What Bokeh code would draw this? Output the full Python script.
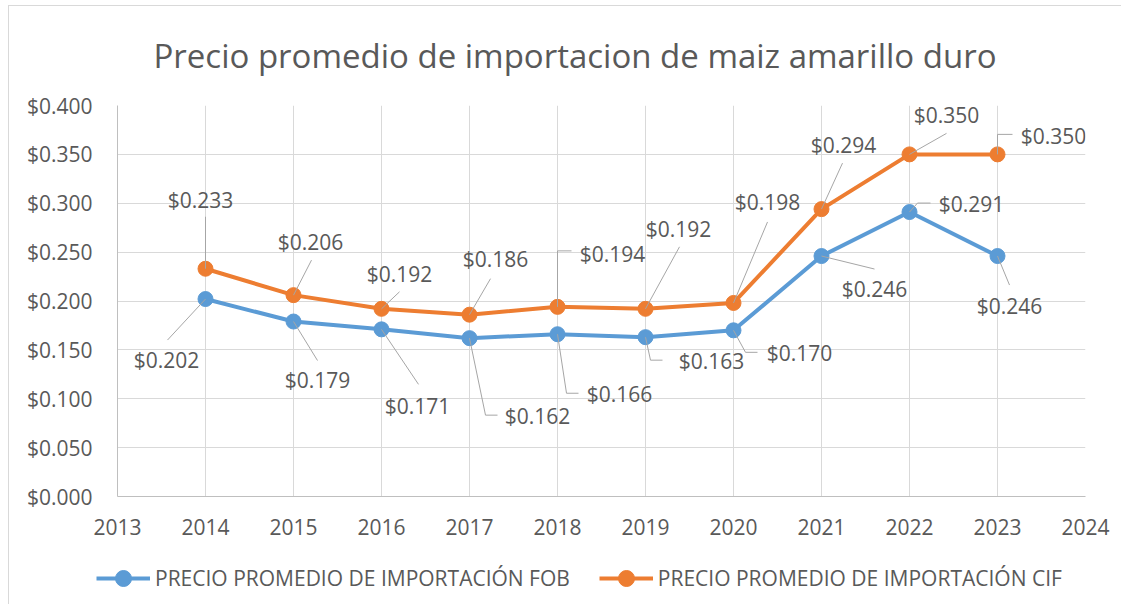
from bokeh.plotting import figure
from bokeh.layouts import column
from bokeh.models import (ColumnDataSource, LabelSet, Legend, LegendItem,
                          FixedTicker, NumeralTickFormatter, Range1d)
from bokeh.core.properties import value
from bokeh.embed import file_html
from bokeh.resources import INLINE

# ---------------- data ----------------
years = [2014, 2015, 2016, 2017, 2018, 2019, 2020, 2021, 2022, 2023]
fob = [0.202, 0.179, 0.171, 0.162, 0.166, 0.163, 0.170, 0.246, 0.291, 0.246]
cif = [0.233, 0.206, 0.192, 0.186, 0.194, 0.192, 0.198, 0.294, 0.350, 0.350]
x_ticks = list(range(2013, 2025))
y_ticks = [0.0, 0.05, 0.10, 0.15, 0.20, 0.25, 0.30, 0.35, 0.40]
title_text = "Precio promedio de importacion  de maiz amarillo duro"
fob_name = "PRECIO PROMEDIO DE IMPORTACIÓN FOB"
cif_name = "PRECIO PROMEDIO DE IMPORTACIÓN CIF"

# ---------------- layout / style ----------------
FONT = "Open Sans"
TXT = "#595959"
BLUE = "#5B9BD5"
ORANGE = "#ED7D31"
GRID = "#d9d9d9"
LEAD = "#a6a6a6"

W = 1112
BL, BR, BT, BB = 108, 36, 99, 50
FW, FH = 968, 391
H1 = BT + FH + BB
H2 = 58
X0, X1, Y0, Y1 = 2013, 2024, 0.0, 0.4
PX = FW / (X1 - X0)          # px per year
PY = FH / (Y1 - Y0)          # px per unit of price

# label offsets (screen px, +x right, +y down) relative to the point
cif_label_off = [(-5, -69), (17, -53), (18, -35), (26, -56), (55, -53),
                 (33, -80), (34, -101), (22, -64), (37, -39), (56, -18)]
fob_label_off = [(-39, 61), (24, 58), (36, 77), (68, 78), (62, 60),
                 (66, 24), (66, 23), (53, 33), (62, -8), (12, 50)]
cif_leaders = [[(0, 0), (0, -52)], [(0, 0), (18, -35)], [(0, 0), (18, -17)],
               [(0, 0), (21, -36)], [(0, 0), (0, -56), (14, -56)],
               [(0, 0), (34, -62)], [(0, 0), (34, -81)], [(0, 0), (21, -46)],
               [(0, 0), (37, -21)], [(0, 0), (0, -20), (15, -20)]]
fob_leaders = [[(0, 0), (-38, 41)], [(0, 0), (24, 39)], [(0, 0), (37, 55)],
               [(0, 0), (16, 77), (28, 77)], [(0, 0), (9, 59), (21, 59)],
               [(0, 0), (5, 23), (17, 23)], [(0, 0), (12, 22), (24, 22)],
               [(0, 0), (53, 13)], [(0, 0), (8, -9), (21, -9)],
               [(0, 0), (12, 29)]]

p = figure(width=W, height=H1, output_backend="svg", toolbar_location=None,
           x_range=Range1d(X0, X1), y_range=Range1d(Y0, Y1),
           min_border_left=BL, min_border_right=BR, min_border_top=BT,
           min_border_bottom=BB, title=title_text)
p.outline_line_color = None
p.background_fill_color = "white"
p.border_fill_color = "white"

p.title.text_font = FONT
p.title.text_font_size = "33px"
p.title.text_font_style = "normal"
p.title.text_color = TXT
p.title.text_line_height = 0.7
p.title.vertical_align = "top"
p.title.align = "left"
p.title.offset = 36
p.title.standoff = 52

for ax in (p.xaxis[0], p.yaxis[0]):
    ax.axis_line_color = "#bfbfbf"
    ax.axis_line_width = 1
    ax.major_tick_line_color = None
    ax.minor_tick_line_color = None
    ax.major_label_text_font = FONT
    ax.major_label_text_font_size = "21px"
    ax.major_label_text_color = TXT
p.xaxis.ticker = FixedTicker(ticks=x_ticks)
p.yaxis.ticker = FixedTicker(ticks=y_ticks)
p.yaxis.formatter = NumeralTickFormatter(format="$0.000")
p.xaxis.major_label_standoff = 16
p.yaxis.major_label_standoff = 19
p.xgrid.grid_line_color = GRID
p.ygrid.grid_line_color = GRID
p.xgrid.ticker = FixedTicker(ticks=x_ticks)
p.ygrid.ticker = FixedTicker(ticks=y_ticks)

# series
p.line(years, fob, line_color=BLUE, line_width=4)
p.scatter(years, fob, size=15, fill_color=BLUE, line_color=BLUE)
p.line(years, cif, line_color=ORANGE, line_width=4)
p.scatter(years, cif, size=15, fill_color=ORANGE, line_color=ORANGE)


def build(values, label_off, leaders):
    lx, ly, txt, xs, ys = [], [], [], [], []
    for yr, v, (dx, dy), lead in zip(years, values, label_off, leaders):
        lx.append(yr + dx / PX)
        ly.append(v - dy / PY)
        txt.append("${:.3f}".format(v))
        xs.append([yr + a / PX for a, b in lead])
        ys.append([v - b / PY for a, b in lead])
    return lx, ly, txt, xs, ys


for vals, loff, lead in ((cif, cif_label_off, cif_leaders),
                         (fob, fob_label_off, fob_leaders)):
    lx, ly, txt, xs, ys = build(vals, loff, lead)
    p.multi_line(xs, ys, line_color=LEAD, line_width=1)
    src = ColumnDataSource(dict(x=lx, y=ly, t=txt))
    p.add_layout(LabelSet(x="x", y="y", text="t", source=src,
                          text_font=value(FONT), text_font_size="21px",
                          text_color=TXT, text_align="center",
                          text_baseline="middle"))

# legend strip (separate figure below the chart)
lg = figure(width=W, height=H2, output_backend="svg", toolbar_location=None,
            x_range=Range1d(0, 1), y_range=Range1d(0, 1),
            x_axis_type=None, y_axis_type=None,
            min_border_left=0, min_border_right=0, min_border_top=0,
            min_border_bottom=0)
lg.frame_align = False
lg.outline_line_color = None
lg.xgrid.visible = False
lg.ygrid.visible = False
off = dict(x=[-5], y=[-5])
l1 = lg.line(x="x", y="y", source=ColumnDataSource(off), line_color=BLUE, line_width=4)
s1 = lg.scatter(x="x", y="y", source=ColumnDataSource(off), fill_color=BLUE, line_color=BLUE)
l2 = lg.line(x="x", y="y", source=ColumnDataSource(off), line_color=ORANGE, line_width=4)
s2 = lg.scatter(x="x", y="y", source=ColumnDataSource(off), fill_color=ORANGE, line_color=ORANGE)
legend = Legend(items=[LegendItem(label=fob_name, renderers=[l1, s1]),
                       LegendItem(label=cif_name, renderers=[l2, s2])],
                orientation="horizontal", location=(87, 6),
                glyph_width=54, glyph_height=40, label_standoff=5, spacing=29,
                label_text_font=FONT, label_text_font_size="21px",
                label_text_color=TXT, label_height=20, padding=0, margin=0,
                border_line_color=None, background_fill_alpha=0)
lg.add_layout(legend, "center")

lay = column(p, lg, spacing=0)
lay.styles = {"margin-left": "8px", "margin-top": "5px",
              "border-left": "1px solid #d9d9d9", "border-top": "1px solid #d9d9d9"}

open("out.html", "w").write(file_html(lay, INLINE))
